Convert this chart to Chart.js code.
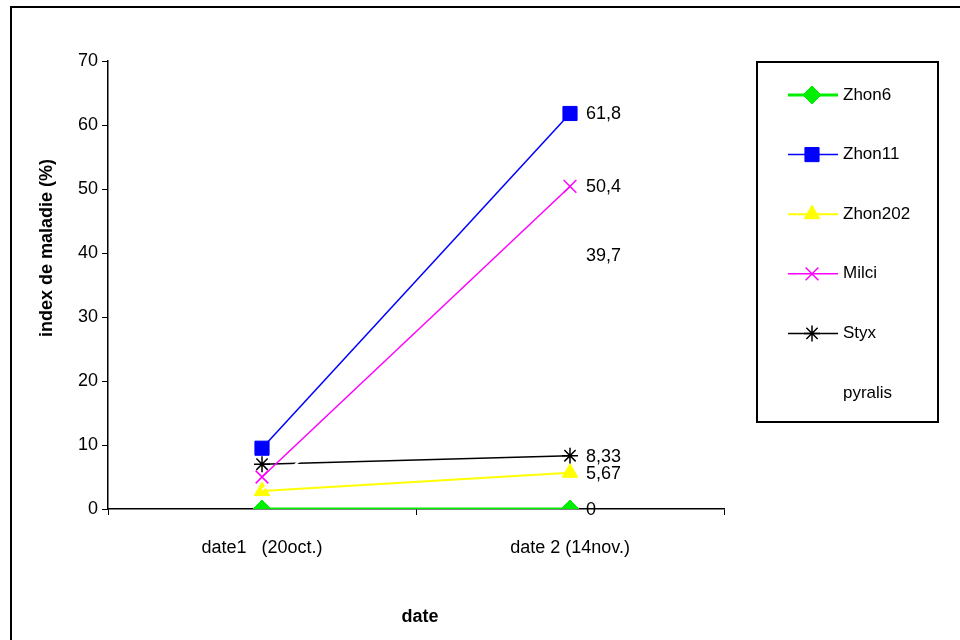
<!DOCTYPE html>
<html>
<head>
<meta charset="utf-8">
<script src="https://cdn.jsdelivr.net/npm/chart.js@4.4.1/dist/chart.umd.min.js"></script>
<style>
  html, body { margin: 0; padding: 0; background: #fff; }
  #wrap { width: 960px; height: 640px; position: relative; }
</style>
</head>
<body>
<div id="wrap"><canvas id="chart" width="960" height="640"></canvas></div>
<script>
// categories and series values
const categories = ['date1   (20oct.)', 'date 2 (14nov.)'];
const zhon6 = [0, 0];
const zhon11 = [9.5, 61.8];
const zhon202 = [2.8, 5.67];
const milci = [5, 50.4];
const styx = [7, 8.33];
const pyralis = [3, 39.7];
const yTicks = [0, 10, 20, 30, 40, 50, 60, 70];

const FONT = '"Liberation Sans", Arial, sans-serif';

// frame, axis titles
const framePlugin = {
    id: 'frame',
    beforeDraw(chart) {
        const ctx = chart.ctx;
        ctx.save();
        ctx.fillStyle = '#fff';
        ctx.fillRect(0, 0, chart.width, chart.height);
        ctx.strokeStyle = '#000';
        ctx.lineWidth = 2;
        ctx.strokeRect(11, 7, 1000, 700);
        ctx.restore();
    },
    afterDraw(chart) {
        const ctx = chart.ctx;
        ctx.save();
        ctx.fillStyle = '#000';
        ctx.font = 'bold 18px ' + FONT;
        ctx.textAlign = 'center';
        ctx.textBaseline = 'middle';
        ctx.fillText('date', 420, 617);
        ctx.translate(47, 248);
        ctx.rotate(-Math.PI / 2);
        ctx.fillText('index de maladie (%)', 0, 0);
        ctx.restore();
    }
};

// value labels at the last point
const labelPlugin = {
    id: 'lastLabels',
    afterDatasetsDraw(chart) {
        const ctx = chart.ctx;
        ctx.save();
        ctx.beginPath();
        ctx.rect(0, 0, 628, chart.height);
        ctx.clip();
        ctx.fillStyle = '#000';
        ctx.font = '18px ' + FONT;
        ctx.textAlign = 'left';
        ctx.textBaseline = 'middle';
        chart.data.datasets.forEach((ds, i) => {
            const pt = chart.getDatasetMeta(i).data[1];
            const txt = String(ds.data[1]).replace('.', ',');
            ctx.fillText(txt, pt.x + 16, pt.y + 1);
        });
        ctx.restore();
    }
};

// Excel-like legend box
const legendPlugin = {
    id: 'boxLegend',
    afterDraw(chart) {
        const ctx = chart.ctx;
        ctx.save();
        ctx.strokeStyle = '#000';
        ctx.lineWidth = 2;
        ctx.strokeRect(757, 62, 181, 360);
        ctx.font = '17px ' + FONT;
        ctx.textBaseline = 'middle';
        chart.data.datasets.forEach((ds, i) => {
            const y = 95 + i * 59.6;
            ctx.strokeStyle = ds.borderColor;
            ctx.lineWidth = ds.borderWidth;
            ctx.beginPath();
            ctx.moveTo(788, y);
            ctx.lineTo(838, y);
            ctx.stroke();
            if (ds.pointRadius > 0) {
                ctx.fillStyle = ds.backgroundColor;
                ctx.strokeStyle = ds.borderColor;
                ctx.lineWidth = ds.pointBorderWidth;
                Chart.helpers.drawPoint(ctx, {
                    pointStyle: ds.pointStyle,
                    radius: ds.pointRadius,
                    borderWidth: ds.pointBorderWidth
                }, 812, y);
            }
            ctx.fillStyle = '#000';
            ctx.fillText(ds.label, 843, y);
        });
        ctx.restore();
    }
};

new Chart(document.getElementById('chart'), {
    type: 'line',
    data: {
        labels: categories,
        datasets: [
            { label: 'Zhon6', data: zhon6, borderColor: '#00ee00', backgroundColor: '#00ee00', borderWidth: 3, pointStyle: 'rectRot', pointRadius: 9, pointBorderWidth: 1 },
            { label: 'Zhon11', data: zhon11, borderColor: '#0000ff', backgroundColor: '#0000ff', borderWidth: 1.5, pointStyle: 'rect', pointRadius: 10, pointBorderWidth: 1 },
            { label: 'Zhon202', data: zhon202, borderColor: '#ffff00', backgroundColor: '#ffff00', borderWidth: 2, pointStyle: 'triangle', pointRadius: 9, pointBorderWidth: 1 },
            { label: 'Milci', data: milci, borderColor: '#ff00ff', backgroundColor: '#ff00ff', borderWidth: 1.5, pointStyle: 'crossRot', pointRadius: 9, pointBorderWidth: 1.5 },
            { label: 'Styx', data: styx, borderColor: '#000000', backgroundColor: '#000000', borderWidth: 1.5, pointStyle: 'star', pointRadius: 8, pointBorderWidth: 1.5 },
            { label: 'pyralis', data: pyralis, borderColor: '#ffffff', backgroundColor: '#ffffff', borderWidth: 2, pointRadius: 0, order: -1 }
        ]
    },
    options: {
        responsive: false,
        animation: false,
        devicePixelRatio: 1,
        layout: { padding: { left: 0, top: 61, right: 236, bottom: 0 } },
        plugins: {
            legend: { display: false },
            tooltip: { enabled: false }
        },
        elements: { line: { tension: 0 } },
        scales: {
            x: {
                offset: true,
                grid: { offset: true, drawOnChartArea: false, color: '#000', tickLength: 6 },
                border: { color: '#000', width: 1.5 },
                ticks: { color: '#000', font: { family: FONT, size: 18 }, padding: 22, maxRotation: 0 },
                afterFit(scale) { scale.height = 131; }
            },
            y: {
                min: 0,
                max: 70,
                afterBuildTicks(scale) { scale.ticks = yTicks.map(v => ({ value: v })); },
                grid: { drawOnChartArea: false, color: '#000', tickLength: 6 },
                border: { color: '#000', width: 1.5 },
                ticks: { color: '#000', font: { family: FONT, size: 18 }, padding: 4 },
                afterFit(scale) { scale.width = 108; }
            }
        }
    },
    plugins: [framePlugin, labelPlugin, legendPlugin]
});
</script>
</body>
</html>
